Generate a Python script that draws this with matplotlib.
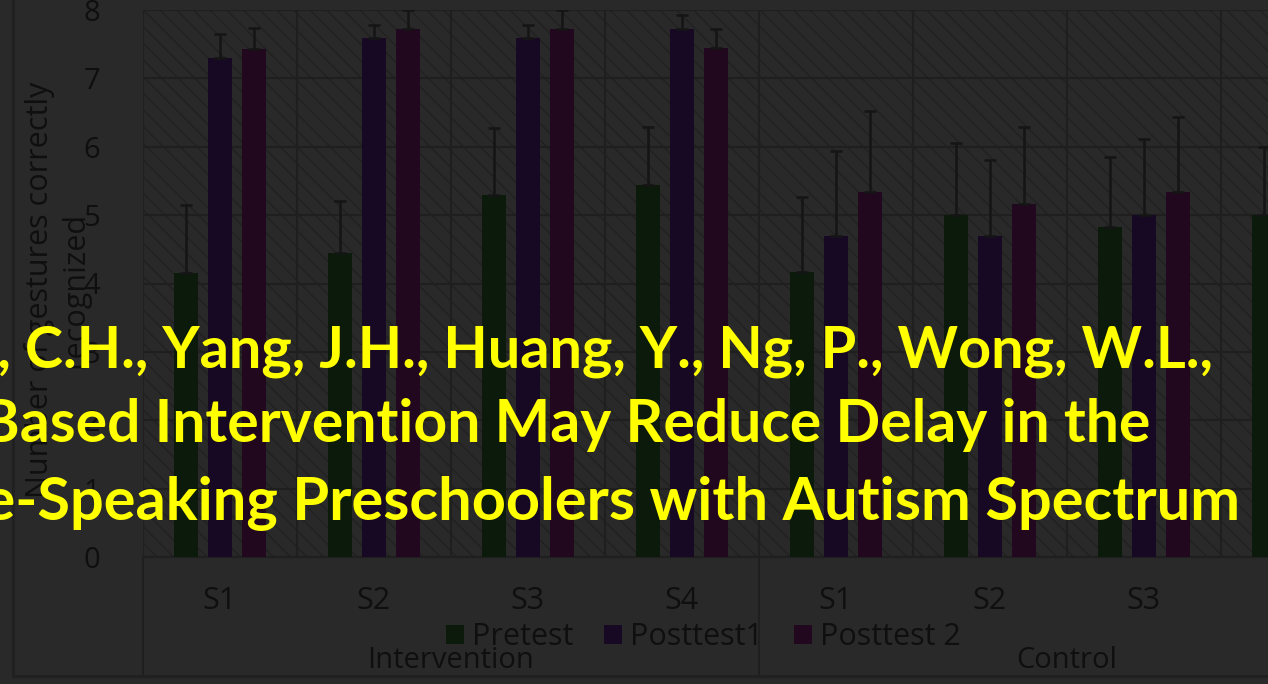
import numpy as np
import matplotlib
matplotlib.use("Agg")
import matplotlib.pyplot as plt

# data
groups = ["Intervention", "Control"]
subjects = ["S1", "S2", "S3", "S4", "S1", "S2", "S3", "S4"]
series = ["Pretest", "Posttest1", "Posttest 2"]

pretest = [4.15, 4.44, 5.30, 5.44, 4.17, 5.00, 4.83, 5.00]
posttest1 = [7.30, 7.59, 7.59, 7.72, 4.69, 4.69, 5.00, np.nan]
posttest2 = [7.43, 7.72, 7.72, 7.44, 5.34, 5.17, 5.34, np.nan]

pretest_err = [1.00, 0.76, 0.97, 0.85, 1.09, 1.05, 1.02, 1.00]
posttest1_err = [0.35, 0.19, 0.19, 0.21, 1.25, 1.12, 1.12, np.nan]
posttest2_err = [0.31, 0.28, 0.28, 0.28, 1.19, 1.12, 1.10, np.nan]

overlay = ["Cheng, C.H., Yang, J.H., Huang, Y., Ng, P., Wong, W.L.,",
           "Robot-Based Intervention May Reduce Delay in the",
           "Chinese-Speaking Preschoolers with Autism Spectrum"]

colors = ["#0c1a0b", "#170923", "#21081f"]
bg = "#292929"
txt = "#0f0f0f"
W, H = 1268, 684

plt.rcParams["font.family"] = ["Open Sans", "DejaVu Sans"]
plt.rcParams["hatch.linewidth"] = 1.0
plt.rcParams["hatch.color"] = "#212121"

fig = plt.figure(figsize=(W / 100, H / 100), dpi=100, facecolor=bg)

# axes in pixel terms: left 143, top 10, bottom 557, category width 154
ax = fig.add_axes([143 / W, (H - 557) / H, 154 * 8 / W, (557 - 10) / H])
ax.set_facecolor(bg)
ax.patch.set_hatch("\\\\")
ax.patch.set_edgecolor("#212121")

x = np.arange(len(subjects))
vals = [pretest, posttest1, posttest2]
errs = [pretest_err, posttest1_err, posttest2_err]
offs = [-0.22, 0.0, 0.22]
for v, e, o, c, name in zip(vals, errs, offs, colors, series):
    v = np.array(v, dtype=float)
    e = np.array(e, dtype=float)
    ax.bar(x + o, v, width=0.156, color=c, label=name, zorder=3)
    ax.errorbar(x + o, v, yerr=[np.zeros_like(e), e], fmt="none",
                ecolor="#151515", elinewidth=1.8, capsize=4.5, capthick=1.8, zorder=4)

ax.set_xlim(-0.5, 7.5)
ax.set_ylim(0, 8)
ax.set_yticks(range(0, 9))
ax.set_xticks(x)
ax.set_xticklabels(subjects)
ax.tick_params(axis="y", length=0, pad=31, labelsize=21, labelcolor=txt)
ax.tick_params(axis="x", length=0, pad=21, labelsize=22, labelcolor=txt)
ax.set_xticks(np.arange(-0.5, 8, 1), minor=True)
ax.grid(True, axis="y", color="#1f1f1f", linewidth=1.5, zorder=1)
ax.grid(True, axis="x", which="minor", color="#1f1f1f", linewidth=1.5, zorder=1)
ax.grid(False, axis="x", which="major")
ax.tick_params(axis="x", which="minor", length=0)
for s in ax.spines.values():
    s.set_visible(False)
ax.spines["bottom"].set_visible(True)
ax.spines["bottom"].set_color("#1f1f1f")
ax.spines["bottom"].set_linewidth(1.5)

# group labels and separators
for i, g in enumerate(groups):
    fig.text((143 + 154 * 4 * i + 154 * 2) / W, 1 - 661 / H, g,
             fontsize=21, color=txt, ha="center", va="center")
for px in [143, 143 + 154 * 4]:
    fig.add_artist(plt.Line2D([px / W, px / W], [1 - 557 / H, 1 - 675 / H],
                              color="#1f1f1f", linewidth=1.5))
fig.add_artist(plt.Line2D([13 / W, 1], [1 - 676 / H, 1 - 676 / H], color="#202020", linewidth=2))
fig.add_artist(plt.Line2D([13 / W, 13 / W], [1, 1 - 676 / H], color="#202020", linewidth=2))

fig.text(57 / W, 1 - 290 / H, "Number of gestures correctly\nrecognized", rotation=90,
         fontsize=22, color=txt, ha="center", va="center", linespacing=1.25)

leg = fig.legend(loc="center left", bbox_to_anchor=(440 / W, 1 - 637 / H), ncol=3,
                 frameon=False, fontsize=22, labelcolor=txt, handlelength=0.6,
                 handleheight=0.6, handletextpad=0.25, columnspacing=1.0,
                 borderaxespad=0, borderpad=0.2)

# yellow overlay text
ends = [1213, 1150, 1240]
bases = [367, 442, 520]
sizes = [41.5, 42.4, 42.8]
for t, xe, yb, fs in zip(overlay, ends, bases, sizes):
    fig.text(xe / W, 1 - yb / H, t, fontsize=fs, color="#ffff00", fontweight="bold",
             family=["Lato", "DejaVu Sans"], ha="right", va="baseline")

fig.savefig("out.png", dpi=100, facecolor=bg)
